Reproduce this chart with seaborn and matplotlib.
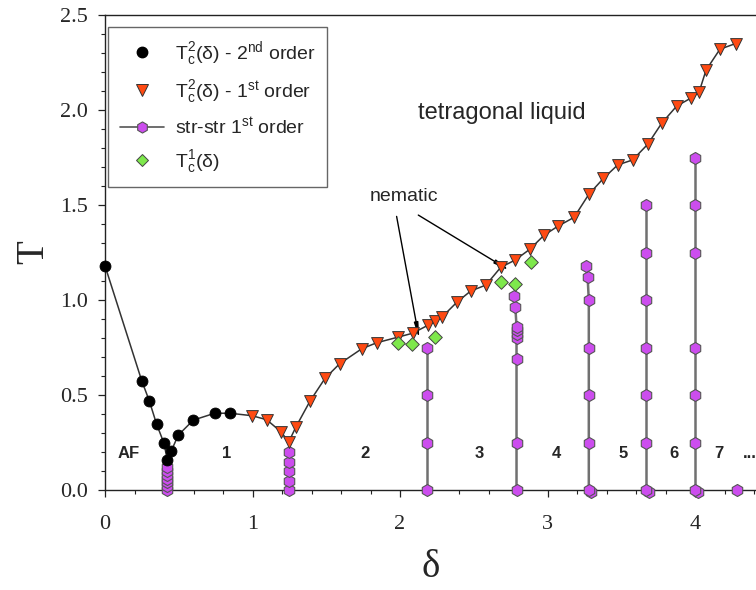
import matplotlib
matplotlib.use("Agg")
import matplotlib.pyplot as plt
import seaborn as sns
import numpy as np
import pandas as pd
from matplotlib.ticker import MultipleLocator, FormatStrFormatter
from matplotlib.lines import Line2D

# ---------------- data ----------------
# T_c^2(delta) - 2nd order (black circles)
sec_x = [0.0, 0.249, 0.300, 0.350, 0.400, 0.422, 0.450, 0.497, 0.599, 0.744, 0.847]
sec_T = [1.180, 0.575, 0.470, 0.346, 0.246, 0.158, 0.207, 0.289, 0.368, 0.404, 0.404]

# T_c^2(delta) - 1st order (red triangles)
first_x = [0.997, 1.096, 1.195, 1.245, 1.295, 1.390, 1.492, 1.590, 1.740, 1.842,
           1.989, 2.085, 2.187, 2.240, 2.283, 2.389, 2.479, 2.583, 2.683, 2.780,
           2.880, 2.978, 3.070, 3.180, 3.280, 3.379, 3.476, 3.577, 3.680, 3.774,
           3.876, 3.971, 4.027, 4.075, 4.169, 4.276]
first_T = [0.391, 0.370, 0.305, 0.252, 0.333, 0.468, 0.588, 0.664, 0.743, 0.775,
           0.805, 0.825, 0.866, 0.888, 0.909, 0.991, 1.047, 1.079, 1.172, 1.210,
           1.267, 1.342, 1.388, 1.435, 1.556, 1.640, 1.711, 1.737, 1.820, 1.930,
           2.021, 2.062, 2.093, 2.210, 2.320, 2.350]

# str-str 1st order (magenta hexagons), grouped in columns
str_col = ([0] * 7 + [1] * 5 + [2] * 4 + [3] * 9 + [4] * 7 + [5] * 7 + [6] * 7)
str_x = ([0.422] * 7 +
         [1.247] * 5 +
         [2.185] * 4 +
         [2.790, 2.790, 2.790, 2.790, 2.790, 2.790, 2.790, 2.782, 2.775] +
         [3.280, 3.280, 3.280, 3.280, 3.280, 3.272, 3.262] +
         [3.668] * 7 +
         [4.000] * 7)
str_T = ([0.00, 0.02, 0.04, 0.06, 0.08, 0.10, 0.12] +
         [0.00, 0.05, 0.10, 0.15, 0.20] +
         [0.00, 0.25, 0.50, 0.75] +
         [0.00, 0.25, 0.69, 0.80, 0.82, 0.84, 0.86, 0.965, 1.02] +
         [0.00, 0.25, 0.50, 0.75, 1.00, 1.12, 1.18] +
         [0.00, 0.25, 0.50, 0.75, 1.00, 1.25, 1.50] +
         [0.00, 0.25, 0.50, 0.75, 1.25, 1.50, 1.75])
# loose str-str points at the bottom
extra_x = [3.295, 3.690, 4.020, 4.283]
extra_T = [-0.01, -0.01, -0.01, 0.0]

# T_c^1(delta) (green diamonds)
tc1_x = [1.989, 2.083, 2.237, 2.683, 2.780, 2.886]
tc1_T = [0.775, 0.768, 0.807, 1.096, 1.084, 1.198]

# region labels
reg_labels = ["AF", "1", "2", "3", "4", "5", "6", "7", "..."]
reg_x = [0.16, 0.825, 1.76, 2.54, 3.06, 3.51, 3.86, 4.16, 4.37]
reg_T = [0.193] * 9

# ---------------- figure ----------------
sns.set_style("ticks")
plt.rcParams['font.family'] = ['Liberation Sans', 'DejaVu Sans']
plt.rcParams['mathtext.fontset'] = 'custom'
plt.rcParams['mathtext.rm'] = 'Liberation Sans'
plt.rcParams['mathtext.it'] = 'Liberation Sans:italic'

fig = plt.figure(figsize=(7.56, 5.9), dpi=100)
ax = fig.add_axes([105 / 756, 100 / 590, 651 / 756, 475 / 590])

line_df = pd.DataFrame({"x": sec_x + first_x, "T": sec_T + first_T})
sns.lineplot(data=line_df, x="x", y="T", sort=False, estimator=None,
             color="#333333", lw=1.1, ax=ax, zorder=2)

str_df = pd.DataFrame({"x": str_x, "T": str_T, "col": str_col})
sns.lineplot(data=str_df, x="x", y="T", units="col", estimator=None, sort=False,
             color="#707070", lw=1.8, ax=ax, zorder=2)

hex_c = "#cc4dee"
sns.scatterplot(x=extra_x, y=extra_T, marker="h", s=75, color=hex_c,
                edgecolor="#555555", linewidth=0.8, ax=ax, zorder=3, clip_on=False)
sns.scatterplot(data=str_df, x="x", y="T", marker="h", s=75, color=hex_c,
                edgecolor="#555555", linewidth=0.8, ax=ax, zorder=3, clip_on=False)

sns.scatterplot(x=sec_x, y=sec_T, marker="o", s=62, color="black",
                edgecolor="black", linewidth=0.6, ax=ax, zorder=4, clip_on=False)
sns.scatterplot(x=first_x, y=first_T, marker="v", s=72, color="#ff4a12",
                edgecolor="#333333", linewidth=0.7, ax=ax, zorder=4, clip_on=False)
sns.scatterplot(x=tc1_x, y=tc1_T, marker="D", s=48, color="#7ee84c",
                edgecolor="#444444", linewidth=0.7, ax=ax, zorder=4, clip_on=False)

# axes
ax.set_xlim(0, 651 / 147.5)
ax.set_ylim(0, 2.5)
ax.xaxis.set_major_locator(MultipleLocator(1))
ax.xaxis.set_minor_locator(MultipleLocator(0.2))
ax.yaxis.set_major_locator(MultipleLocator(0.5))
ax.yaxis.set_minor_locator(MultipleLocator(0.1))
ax.yaxis.set_major_formatter(FormatStrFormatter("%.1f"))
ax.xaxis.set_major_formatter(FormatStrFormatter("%d"))
ax.spines["right"].set_visible(False)
for sp in ["left", "bottom", "top"]:
    ax.spines[sp].set_linewidth(1.0)
    ax.spines[sp].set_color("#222222")
ax.tick_params(which="major", direction="out", length=5, width=0.9, color="#222222")
ax.tick_params(which="minor", direction="out", length=3, width=0.8, color="#222222")
ax.tick_params(axis="y", which="major", pad=7)
ax.tick_params(axis="x", which="major", pad=13)
for lab in ax.get_xticklabels() + ax.get_yticklabels():
    lab.set_fontfamily("Liberation Serif")
    lab.set_fontsize(16)

ax.set_xlabel("δ", family="Liberation Serif", fontsize=28, labelpad=11)
ax.set_ylabel("T", family="Liberation Serif", fontsize=28, labelpad=6)

# texts
ax.text(2.69, 1.984, "tetragonal liquid", fontsize=17, ha="center", va="center")
ax.text(2.03, 1.545, "nematic", fontsize=14, ha="center", va="center")
ax.annotate("", xy=(2.131, 0.793), xytext=(1.977, 1.44),
            arrowprops=dict(arrowstyle="-|>,head_width=0.12,head_length=0.9",
                            color="black", lw=1.0, shrinkA=0, shrinkB=0))
ax.annotate("", xy=(2.746, 1.154), xytext=(2.124, 1.447),
            arrowprops=dict(arrowstyle="-|>,head_width=0.12,head_length=0.9",
                            color="black", lw=1.0, shrinkA=0, shrinkB=0))
for lab, x, y in zip(reg_labels, reg_x, reg_T):
    ax.text(x, y, lab, fontsize=12, fontweight="bold", ha="center", va="center")

# legend
handles = [
    Line2D([], [], ls="none", marker="o", ms=7.5, mfc="black", mec="black"),
    Line2D([], [], ls="none", marker="v", ms=8, mfc="#ff4a12", mec="#333333", mew=0.7),
    Line2D([], [], ls="-", color="#555555", lw=1.2, marker="h", ms=8, mfc=hex_c,
           mec="#555555", mew=0.8),
    Line2D([], [], ls="none", marker="D", ms=6.5, mfc="#7ee84c", mec="#444444", mew=0.7),
]
labels = [r"T$_{\mathrm{c}}^{2}$(δ) - 2$^{\mathrm{nd}}$ order",
          r"T$_{\mathrm{c}}^{2}$(δ) - 1$^{\mathrm{st}}$ order",
          r"str-str 1$^{\mathrm{st}}$ order",
          r"T$_{\mathrm{c}}^{1}$(δ)"]
leg = ax.legend(handles, labels, loc="upper left", bbox_to_anchor=(3 / 651, 463 / 475),
                borderaxespad=0, fontsize=14, frameon=True, fancybox=False,
                edgecolor="#666666", framealpha=1, handlelength=2.3,
                handletextpad=0.55, labelspacing=0.55, borderpad=0.6)
leg.get_frame().set_linewidth(1.0)

fig.savefig("out.png", dpi=100)
